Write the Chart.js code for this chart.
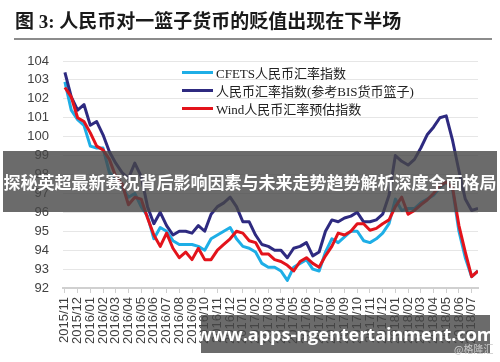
<!DOCTYPE html>
<html>
<head>
<meta charset="utf-8">
<script src="https://cdn.jsdelivr.net/npm/chart.js@4"></script>
<style>
  body { margin: 0; background: #fff; }
  #wrap { position: relative; width: 500px; height: 362px; overflow: hidden; }
  #title {
    position: absolute; left: 15px; top: 6px;
    font: bold 19px "Liberation Serif", "Noto Sans CJK SC", serif;
    color: #1a1a1a; white-space: nowrap;
  }
  #rule { position: absolute; left: 14px; top: 38px; width: 478px; height: 2px; background: #8c8c8c; }
  #legend { position: absolute; left: 182px; top: 63px; }
  .row { height: 18px; display: flex; align-items: center; white-space: nowrap;
    font: 13px "Liberation Serif", "Noto Sans CJK SC", serif; color: #222; }
  .swatch { width: 31px; height: 3px; margin-right: 3px; }
  .banner { position: absolute; background: rgba(70, 70, 70, 0.8); color: #fff; white-space: nowrap;
    display: flex; align-items: center; justify-content: center; }
  #b1 { left: 3px; top: 151px; width: 494px; height: 61px;
    font: bold 17px "Noto Sans CJK SC", sans-serif; }
  #b2 { left: 201px; top: 315px; width: 289px; height: 38px;
    font: bold 18px "Open Sans", sans-serif; }
  #mark { position: absolute; left: 454px; top: 341px; font: 10px "Noto Sans CJK SC", sans-serif; color: #c8c8c8; }
</style>
</head>
<body>
<div id="wrap">
  <canvas id="chart" width="500" height="362"></canvas>
  <div id="title">图 3: 人民币对一篮子货币的贬值出现在下半场</div>
  <div id="rule"></div>
  <div id="legend"></div>
  <div id="b1" class="banner">探秘英超最新赛况背后影响因素与未来走势趋势解析深度全面格局</div>
  <div id="b2" class="banner">www.apps-ngentertainment.com</div>
  <div id="mark">@格隆汇</div>
</div>
<script>
const monthLabels = [
  '2015/11', '2015/12',
  '2016/01', '2016/02', '2016/03', '2016/04', '2016/05', '2016/06',
  '2016/07', '2016/08', '2016/09', '2016/10', '2016/11', '2016/12',
  '2017/01', '2017/02', '2017/03', '2017/04', '2017/05', '2017/06',
  '2017/07', '2017/08', '2017/09', '2017/10', '2017/11', '2017/12',
  '2018/01', '2018/02', '2018/03', '2018/04', '2018/05', '2018/06', '2018/07'
]

// values every half month, starting 2015/11
const cfets = [102.9, 101.4, 100.9, 100.6, 99.5, 99.4, 99.4, 98.1, 97.8, 97.3, 96.8, 97.0, 96.3, 95.8, 94.6, 95.2,
  95.0, 94.5, 94.3, 94.3, 94.3, 94.2, 94.0, 94.6, 94.8, 95.0, 95.2, 94.6, 94.2, 94.1, 93.9, 93.3, 93.1, 93.1,
  92.9, 92.4, 93.1, 93.3, 93.5, 93.0, 92.9, 93.9, 94.6, 94.4, 94.7, 95.0, 95.0, 94.5, 94.4, 94.6, 94.9, 95.4,
  96.7, 96.1, 96.2, 96.2, 96.5, 96.7, 96.9, 97.3, 97.6, 97.2, 95.0, 93.6, 92.6, 92.9]
const bis = [103.4, 102.1, 101.4, 101.7, 100.6, 100.8, 100.1, 99.2, 98.6, 98.1, 97.8, 98.6, 97.9, 96.3, 95.4, 96.0,
  95.3, 94.8, 95.0, 95.0, 94.9, 95.3, 95.0, 95.9, 96.3, 96.5, 96.8, 96.3, 95.5, 95.5, 94.8, 94.3, 94.2, 94.0,
  94.0, 93.6, 94.1, 94.2, 94.4, 93.7, 93.9, 95.0, 95.6, 95.5, 95.7, 95.8, 96.0, 95.5, 95.5, 95.6, 95.9, 96.9,
  99.0, 98.7, 98.5, 98.8, 99.4, 100.1, 100.5, 101.0, 101.1, 99.8, 98.2, 96.7, 96.1, 96.2]
const wind = [102.6, 102.1, 101.0, 100.8, 100.2, 99.5, 99.3, 98.8, 97.9, 97.5, 96.4, 96.8, 96.7, 95.7, 94.8, 94.2,
  94.9, 94.1, 93.6, 93.9, 93.5, 94.1, 93.5, 93.5, 94.0, 94.3, 94.6, 95.0, 94.9, 94.5, 94.4, 93.8, 93.8, 93.5,
  93.4, 93.2, 92.9, 93.4, 93.6, 93.3, 93.1, 93.7, 94.2, 94.9, 94.8, 95.0, 95.4, 95.4, 95.05, 95.15, 95.4, 95.6,
  96.3, 96.8, 95.9, 96.1, 96.4, 96.65, 97.0, 97.4, 97.6, 97.3, 95.3, 93.9, 92.6, 92.9]

const seriesNames = ['CFETS人民币汇率指数', '人民币汇率指数(参考BIS货币篮子)', 'Wind人民币汇率预估指数']
const seriesColors = ['#1eaee6', '#2e2a80', '#e3131b']

const toPoints = (values) => values.map((v, i) => ({ x: i / 2, y: v }))

const legend = document.getElementById('legend')
seriesNames.forEach((name, i) => {
  const row = document.createElement('div')
  row.className = 'row'
  row.innerHTML = `<span class="swatch" style="background:${seriesColors[i]}"></span>${name}`
  legend.appendChild(row)
})

new Chart(document.getElementById('chart'), {
  type: 'line',
  data: {
    datasets: [
      { label: seriesNames[0], data: toPoints(cfets), borderColor: seriesColors[0], order: 2 },
      { label: seriesNames[1], data: toPoints(bis), borderColor: seriesColors[1], order: 1 },
      { label: seriesNames[2], data: toPoints(wind), borderColor: seriesColors[2], order: 0 }
    ]
  },
  options: {
    responsive: false,
    animation: false,
    devicePixelRatio: 1,
    elements: {
      line: { borderWidth: 3, tension: 0, borderJoinStyle: 'round' },
      point: { radius: 0 }
    },
    layout: { padding: { top: 61, right: 22, left: 0, bottom: 0 } },
    plugins: { legend: { display: false }, tooltip: { enabled: false } },
    scales: {
      x: {
        type: 'linear',
        min: -0.15,
        max: 32.5,
        afterBuildTicks: (axis) => { axis.ticks = monthLabels.map((_, i) => ({ value: i })) },
        afterFit: (axis) => { axis.height = 74 },
        ticks: {
          autoSkip: false,
          maxRotation: 90,
          minRotation: 90,
          padding: 4,
          color: '#404040',
          font: { family: 'Liberation Sans', size: 13 },
          callback: (v) => monthLabels[v]
        },
        grid: { drawOnChartArea: false, tickLength: 5, color: '#d0d0d0' },
        border: { color: '#d0d0d0', width: 2 }
      },
      y: {
        min: 92,
        max: 104,
        afterFit: (axis) => { axis.width = 63 },
        ticks: {
          stepSize: 1,
          padding: 14,
          color: '#404040',
          font: { family: 'Liberation Sans', size: 13 }
        },
        grid: { color: '#e6e6e6', drawTicks: false },
        border: { display: false }
      }
    }
  }
})
</script>
</body>
</html>
